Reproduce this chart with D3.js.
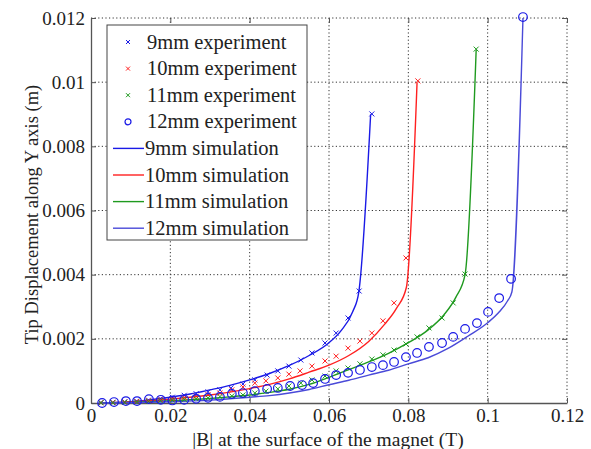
<!DOCTYPE html>
<html>
<head>
<meta charset="utf-8">
<script src="https://cdn.jsdelivr.net/npm/d3@7"></script>
<style>
  body { margin: 0; background: #fff; }
  text { font-family: "Liberation Serif", "Times New Roman", serif; fill: #222; }
</style>
</head>
<body>
<script>
// Data
const xTicks = [0, 0.02, 0.04, 0.06, 0.08, 0.1, 0.12];
const xTickLabels = ["0", "0.02", "0.04", "0.06", "0.08", "0.1", "0.12"];
const yTicks = [0, 0.002, 0.004, 0.006, 0.008, 0.01, 0.012];
const yTickLabels = ["0", "0.002", "0.004", "0.006", "0.008", "0.01", "0.012"];

const exp9 = [
  [0.0025, 0.00001], [0.0055, 0.00002], [0.0085, 0.00004], [0.0115, 0.00006], [0.0145, 0.00009],
  [0.0175, 0.00013], [0.0205, 0.00018], [0.0235, 0.00024], [0.0265, 0.00029], [0.0295, 0.00035],
  [0.0325, 0.00041], [0.0353, 0.00047], [0.0383, 0.00059], [0.0413, 0.00072], [0.0444, 0.00087],
  [0.0471, 0.00100], [0.0499, 0.00115], [0.0529, 0.00134], [0.0557, 0.00156], [0.0590, 0.00187],
  [0.0618, 0.00218], [0.0648, 0.00265], [0.0676, 0.00349], [0.0708, 0.00901]
];
const exp10 = [
  [0.0025, 0.00001], [0.0055, 0.00002], [0.0085, 0.00003], [0.0115, 0.00005], [0.0145, 0.00007],
  [0.0175, 0.00010], [0.0205, 0.00013], [0.0235, 0.00017], [0.0265, 0.00021], [0.0295, 0.00026],
  [0.0325, 0.00031], [0.0355, 0.00041], [0.0383, 0.00050], [0.0413, 0.00062], [0.0441, 0.00069],
  [0.0471, 0.00078], [0.0499, 0.00090], [0.0527, 0.00100], [0.0557, 0.00115], [0.0590, 0.00131],
  [0.0618, 0.00146], [0.0648, 0.00171], [0.0678, 0.00193], [0.0708, 0.00218], [0.0736, 0.00256],
  [0.0764, 0.00312], [0.0794, 0.00452], [0.0824, 0.01004]
];
const exp11 = [
  [0.0025, 0.00001], [0.0055, 0.00001], [0.0085, 0.00002], [0.0115, 0.00003], [0.0145, 0.00005],
  [0.0175, 0.00007], [0.0205, 0.00009], [0.0235, 0.00011], [0.0265, 0.00013], [0.0295, 0.00016],
  [0.0325, 0.00020], [0.0355, 0.00022], [0.0383, 0.00025], [0.0413, 0.00031], [0.0441, 0.00037],
  [0.0471, 0.00044], [0.0499, 0.00053], [0.0529, 0.00062], [0.0557, 0.00072], [0.0590, 0.00084],
  [0.0618, 0.00100], [0.0648, 0.00109], [0.0678, 0.00122], [0.0708, 0.00137], [0.0736, 0.00150],
  [0.0764, 0.00165], [0.0794, 0.00184], [0.0822, 0.00206], [0.0852, 0.00234], [0.0885, 0.00265],
  [0.0913, 0.00312], [0.0943, 0.00402], [0.0971, 0.01103]
];
const exp12 = [
  [0.0028, 0.00000], [0.0058, 0.00003], [0.0088, 0.00006], [0.0116, 0.00006], [0.0146, 0.00012],
  [0.0176, 0.00010], [0.0205, 0.00008], [0.0235, 0.00010], [0.0265, 0.00013], [0.0295, 0.00016],
  [0.0325, 0.00019], [0.0355, 0.00028], [0.0383, 0.00031], [0.0413, 0.00037], [0.0444, 0.00044],
  [0.0471, 0.00047], [0.0502, 0.00053], [0.0532, 0.00056], [0.0560, 0.00062], [0.0590, 0.00075],
  [0.0618, 0.00087], [0.0648, 0.00094], [0.0678, 0.00103], [0.0708, 0.00112], [0.0736, 0.00118],
  [0.0764, 0.00128], [0.0794, 0.00143], [0.0822, 0.00156], [0.0852, 0.00175], [0.0885, 0.00187],
  [0.0913, 0.00206], [0.0943, 0.00231], [0.0973, 0.00249], [0.1001, 0.00284], [0.1029, 0.00327],
  [0.1059, 0.00387], [0.1089, 0.01203]
];

const sim9 = [
  [0.002, 0], [0.005, 0.00001], [0.01, 0.00004], [0.015, 0.00010], [0.02, 0.00018], [0.025, 0.00028],
  [0.03, 0.00041], [0.035, 0.00055], [0.04, 0.00072], [0.045, 0.00092], [0.05, 0.00117],
  [0.055, 0.00148], [0.06, 0.00188], [0.063, 0.00225], [0.066, 0.00285], [0.0675, 0.00345],
  [0.0705, 0.0090]
];
const sim10 = [
  [0.002, 0], [0.005, 0.00001], [0.01, 0.00003], [0.015, 0.00007], [0.02, 0.00012], [0.025, 0.00018],
  [0.03, 0.00025], [0.035, 0.00034], [0.04, 0.00045], [0.045, 0.00058], [0.05, 0.00075],
  [0.055, 0.00096], [0.06, 0.00118], [0.065, 0.00148], [0.07, 0.00192], [0.074, 0.00245],
  [0.077, 0.00295], [0.0795, 0.0036], [0.0822, 0.0100]
];
const sim11 = [
  [0.002, 0], [0.01, 0.00002], [0.02, 0.00007], [0.03, 0.00014], [0.035, 0.00019], [0.04, 0.00025],
  [0.045, 0.00033], [0.05, 0.00043], [0.055, 0.00058], [0.06, 0.00080], [0.065, 0.00104],
  [0.07, 0.00128], [0.075, 0.00155], [0.08, 0.00188], [0.085, 0.00228], [0.089, 0.00275],
  [0.092, 0.00330], [0.0943, 0.0040], [0.0971, 0.0110]
];
const sim12 = [
  [0.002, 0], [0.01, 0.00001], [0.02, 0.00004], [0.03, 0.00009], [0.04, 0.00018], [0.045, 0.00023],
  [0.05, 0.00031], [0.055, 0.00042], [0.06, 0.00057], [0.065, 0.00071], [0.07, 0.00087],
  [0.075, 0.00102], [0.08, 0.00122], [0.085, 0.00141], [0.09, 0.00170], [0.095, 0.00208],
  [0.1, 0.00250], [0.103, 0.00285], [0.105, 0.00318], [0.1061, 0.00346], [0.1089, 0.0120]
];

const legendLabels = [
  "9mm experiment", "10mm experiment", "11mm experiment", "12mm experiment",
  "9mm simulation", "10mm simulation", "11mm simulation", "12mm simulation"
];

// Layout
const width = 591, height = 449;
const margin = { top: 18, right: 24, bottom: 46, left: 91 };
const innerW = width - margin.left - margin.right;
const innerH = height - margin.top - margin.bottom;

const blue = "#1a1ae6", red = "#ff2020", green = "#1f9a1f", blue2 = "#4a4ad8";

const x = d3.scaleLinear().domain([0, 0.12]).range([0, innerW]);
const y = d3.scaleLinear().domain([0, 0.012]).range([innerH, 0]);

const svg = d3.select("body").append("svg")
  .attr("width", width)
  .attr("height", height);

const g = svg.append("g").attr("transform", `translate(${margin.left},${margin.top})`);

// Grid (dotted, also closes the box on top and right)
g.append("g").selectAll("line").data(xTicks.slice(1)).join("line")
  .attr("x1", d => x(d)).attr("x2", d => x(d))
  .attr("y1", 0).attr("y2", innerH)
  .attr("stroke", "#333").attr("stroke-width", 1).attr("stroke-dasharray", "1.2,2.4");
g.append("g").selectAll("line").data(yTicks.slice(1)).join("line")
  .attr("x1", 0).attr("x2", innerW)
  .attr("y1", d => y(d)).attr("y2", d => y(d))
  .attr("stroke", "#333").attr("stroke-width", 1).attr("stroke-dasharray", "1.2,2.4");

// Axes
g.append("g").attr("transform", `translate(0,${innerH})`)
  .call(d3.axisBottom(x).tickValues(xTicks).tickFormat((d, i) => xTickLabels[i]).tickSizeInner(-5).tickSizeOuter(0).tickPadding(6));
g.append("g")
  .call(d3.axisLeft(y).tickValues(yTicks).tickFormat((d, i) => yTickLabels[i]).tickSizeInner(-5).tickSizeOuter(0).tickPadding(6));
g.selectAll(".domain").attr("stroke", "#555").attr("stroke-width", 1.3);

// ticks on top and right, no solid border
g.append("g").call(d3.axisTop(x).tickValues(xTicks).tickFormat("").tickSizeInner(-5).tickSizeOuter(0))
  .select(".domain").remove();
g.append("g").attr("transform", `translate(${innerW},0)`)
  .call(d3.axisRight(y).tickValues(yTicks).tickFormat("").tickSizeInner(-5).tickSizeOuter(0))
  .select(".domain").remove();

g.selectAll(".tick line").attr("stroke", "#555");
g.selectAll(".tick text").attr("font-size", 19).attr("fill", "#222");

// Axis titles
svg.append("text")
  .attr("x", 328).attr("y", 446)
  .attr("text-anchor", "middle").attr("font-size", 19.5)
  .text("|B| at the surface of the magnet (T)");
svg.append("text")
  .attr("transform", `translate(38,${margin.top + innerH / 2 + 4}) rotate(-90)`)
  .attr("text-anchor", "middle").attr("font-size", 18.5)
  .text("Tip Displacement along Y axis (m)");

// Simulation lines
const line = d3.line().x(d => x(d[0])).y(d => y(d[1])).curve(d3.curveMonotoneX);
const sims = [[sim9, blue], [sim10, red], [sim11, green], [sim12, blue2]];
g.append("g").selectAll("path").data(sims).join("path")
  .attr("d", d => line(d[0]))
  .attr("fill", "none")
  .attr("stroke", d => d[1])
  .attr("stroke-width", 1.4);

// Experiment markers
function crosses(data, color, s) {
  g.append("g").selectAll("path").data(data).join("path")
    .attr("d", d => {
      const cx = x(d[0]), cy = y(d[1]);
      return `M${cx - s},${cy - s}L${cx + s},${cy + s}M${cx - s},${cy + s}L${cx + s},${cy - s}`;
    })
    .attr("stroke", color).attr("stroke-width", 1).attr("fill", "none");
}
crosses(exp9, blue, 2.5);
crosses(exp10, red, 2.5);
crosses(exp11, green, 2.5);
g.append("g").selectAll("circle").data(exp12).join("circle")
  .attr("cx", d => x(d[0])).attr("cy", d => y(d[1])).attr("r", 4.3)
  .attr("fill", "none").attr("stroke", blue).attr("stroke-width", 1.2);

// Legend
const lg = svg.append("g").attr("transform", "translate(107,25)");
lg.append("rect").attr("width", 200).attr("height", 215)
  .attr("fill", "#fff").attr("stroke", "#444").attr("stroke-width", 1);
const legendStyles = [
  { type: "x", color: blue }, { type: "x", color: red }, { type: "x", color: green }, { type: "o", color: blue },
  { type: "l", color: blue }, { type: "l", color: red }, { type: "l", color: green }, { type: "l", color: blue2 }
];
const item = lg.selectAll("g.item").data(legendLabels).join("g")
  .attr("class", "item")
  .attr("transform", (d, i) => `translate(0,${17 + i * 26.6})`);
item.each(function (d, i) {
  const st = legendStyles[i];
  const it = d3.select(this);
  if (st.type === "x") {
    it.append("path").attr("d", "M19,-2L23,2M19,2L23,-2").attr("stroke", st.color).attr("stroke-width", 1);
  } else if (st.type === "o") {
    it.append("circle").attr("cx", 21).attr("cy", 0).attr("r", 3).attr("fill", "none").attr("stroke", st.color).attr("stroke-width", 1.2);
  } else {
    it.append("line").attr("x1", 6).attr("x2", 37).attr("y1", 0).attr("y2", 0).attr("stroke", st.color).attr("stroke-width", 1.4);
  }
});
item.append("text")
  .attr("x", (d, i) => i < 4 ? 40 : 38)
  .attr("y", 6.5)
  .attr("font-size", 20.5)
  .text(d => d);
</script>
</body>
</html>
